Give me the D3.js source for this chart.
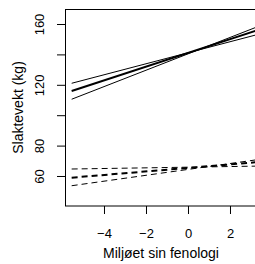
<!DOCTYPE html>
<html>
<head>
<meta charset="utf-8">
<script src="https://cdn.jsdelivr.net/npm/d3@7"></script>
<style>
	body { margin: 0; background: white; }
	svg { display: block; font-family: 'Liberation Sans', Arial, sans-serif; }
</style>
</head>
<body>
<div id="chart"></div>
<script>
// x positions where each fitted line is read (left and right ends)
var line_x = [-5.54, 3.29];

// solid lines: value at left end, value at right end
var solid_lines = [
	[121.0, 153.0],
	[115.9, 155.8],
	[110.5, 158.1]
];

// dashed lines
var dashed_lines = [
	[64.6, 66.5],
	[58.9, 69.1],
	[53.6, 70.7]
];

var x_ticks = [-4, -2, 0, 2];
var y_ticks = [60, 80, 100, 120, 140, 160];
var y_labels = [60, 80, 120, 160];

var x_title = 'Miljøet sin fenologi';
var y_title = 'Slaktevekt (kg)';


function create_chart() {
	var margin = {top: 9, right: 0, bottom: 58, left: 65};
	var width = 257 - margin.left;
	var height = 206 - margin.top;

	var svg = d3.select('#chart')
		.append('svg')
		.attr('width', 255)
		.attr('height', 264);

	var g = svg.append('g')
		.attr('transform', 'translate(' + margin.left + ',' + margin.top + ')');

	var x = d3.scaleLinear()
		.domain([-5.857, 3.286])
		.range([0, width]);

	var y = d3.scaleLinear()
		.domain([40.26, 169.87])
		.range([height, 0]);

	// x axis
	var x_axis = g.append('g')
		.attr('transform', 'translate(0,' + height + ')')
		.call(d3.axisBottom(x)
			.tickValues(x_ticks)
			.tickSize(8)
			.tickPadding(14.5)
			.tickFormat(function(d) { return d < 0 ? '\u2212' + Math.abs(d) : d; }));
	x_axis.select('.domain').remove();
	x_axis.selectAll('line').attr('stroke', 'black');
	x_axis.selectAll('text')
		.style('font-size', '13px')
		.style('font-family', "'Liberation Sans', Arial, sans-serif")
		.attr('fill', 'black');

	// y axis
	var y_axis = g.append('g')
		.call(d3.axisLeft(y)
			.tickValues(y_ticks)
			.tickSize(8)
			.tickFormat(function(d) { return y_labels.indexOf(d) >= 0 ? d : ''; }));
	y_axis.select('.domain').remove();
	y_axis.selectAll('line').attr('stroke', 'black');
	y_axis.selectAll('text')
		.attr('x', 0)
		.attr('dy', 0)
		.attr('text-anchor', 'middle')
		.attr('transform', 'translate(-21,0) rotate(-90)')
		.style('font-size', '13px')
		.style('font-family', "'Liberation Sans', Arial, sans-serif")
		.attr('fill', 'black');

	// clip to plot region
	svg.append('clipPath')
		.attr('id', 'plot_clip')
		.append('rect')
			.attr('width', width)
			.attr('height', height);

	var line = d3.line()
		.x(function(d, i) { return x(line_x[i]); })
		.y(function(d) { return y(d); });

	var lines = g.append('g').attr('clip-path', 'url(#plot_clip)');

	lines.selectAll('.solid')
		.data(solid_lines)
		.enter()
		.append('path')
			.attr('class', 'solid')
			.attr('d', line)
			.attr('fill', 'none')
			.attr('stroke', 'black')
			.attr('stroke-width', function(d, i) { return i == 1 ? 2 : 1; });

	lines.selectAll('.dashed')
		.data(dashed_lines)
		.enter()
		.append('path')
			.attr('class', 'dashed')
			.attr('d', line)
			.attr('fill', 'none')
			.attr('stroke', 'black')
			.attr('stroke-dasharray', '6,4')
			.attr('stroke-width', function(d, i) { return i == 1 ? 2 : 1; });

	// box
	g.append('rect')
		.attr('x', 0.5)
		.attr('y', 0.5)
		.attr('width', width)
		.attr('height', height - 0.5)
		.attr('fill', 'none')
		.attr('stroke', 'black');

	// x title
	svg.append('text')
		.attr('text-anchor', 'middle')
		.attr('x', margin.left + width / 2)
		.attr('y', 257.5)
		.style('font-size', '14px')
		.text(x_title);

	// y title
	svg.append('text')
		.attr('text-anchor', 'middle')
		.attr('transform', 'translate(23,' + (margin.top + height / 2) + ') rotate(-90)')
		.style('font-size', '14px')
		.text(y_title);
}


create_chart();
</script>
</body>
</html>
